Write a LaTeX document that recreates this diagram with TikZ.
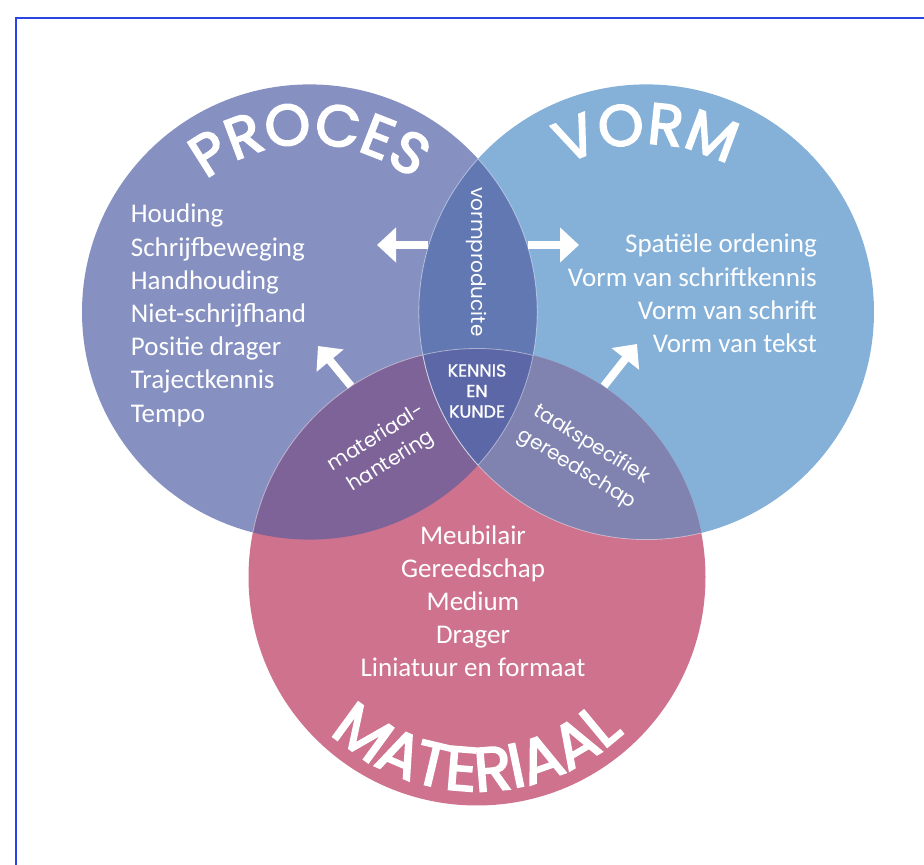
\documentclass[tikz,border=0pt]{standalone}
\usepackage{fontspec}
\setmainfont{Carlito}
\newfontfamily\geo{Poppins}
\newfontfamily\geot[FakeBold=3]{Poppins}
\newfontfamily\geok[FakeBold=1]{Poppins}
\usetikzlibrary{arrows.meta,decorations.text,calc}
\definecolor{cP}{HTML}{8691C2}
\definecolor{cV}{HTML}{85B1D9}
\definecolor{cM}{HTML}{CE728E}
\definecolor{cPV}{HTML}{6178B3}
\definecolor{cPM}{HTML}{7D6398}
\definecolor{cVM}{HTML}{8083B0}
\definecolor{cPVM}{HTML}{5C67A7}
\definecolor{frameblue}{HTML}{2A45E6}
\tikzset{
  listtext/.style={text=white, inner sep=0pt, font=\fontsize{27}{33}\selectfont},
  lenstext/.style={text=white, inner sep=0pt, align=center, font=\geo\fontsize{20}{28}\selectfont},
  kenntext/.style={text=white, inner sep=0pt, align=center, font=\geok\fontsize{17.5}{20.5}\selectfont},
  edgeline/.style={draw=white, draw opacity=0.45, line width=0.8pt},
  fatarrow/.style={white, line width=8pt, -{Triangle[length=19pt,width=34pt]}},
  arctitle/.style={decorate, decoration={text along path, text align={center}, text color=white}}
}
\begin{document}
\begin{tikzpicture}[x=1pt,y=1pt]
\useasboundingbox (0,0) rectangle (924,865);
\draw[frameblue, line width=2pt] (16,847) rectangle (960,-30);

\coordinate (P) at (309.6,553);
\coordinate (V) at (646.4,553);
\coordinate (M) at (477,288);
\def\rPV{227.6}
\def\rM{228.5}

% base circles
\fill[cP] (P) circle[radius=\rPV];
\fill[cV] (V) circle[radius=\rPV];
\fill[cM] (M) circle[radius=\rM];
% overlaps
\begin{scope}\clip (P) circle[radius=\rPV]; \fill[cPV] (V) circle[radius=\rPV];\end{scope}
\begin{scope}\clip (P) circle[radius=\rPV]; \fill[cPM] (M) circle[radius=\rM];\end{scope}
\begin{scope}\clip (V) circle[radius=\rPV]; \fill[cVM] (M) circle[radius=\rM];\end{scope}
\begin{scope}\clip (P) circle[radius=\rPV]; \clip (V) circle[radius=\rPV]; \fill[cPVM] (M) circle[radius=\rM];\end{scope}
% thin inner boundaries
\begin{scope}\clip (P) circle[radius=\rPV]; \path[edgeline] (V) circle[radius=\rPV]; \path[edgeline] (M) circle[radius=\rM];\end{scope}
\begin{scope}\clip (V) circle[radius=\rPV]; \path[edgeline] (P) circle[radius=\rPV];\end{scope}
\begin{scope}\clip (M) circle[radius=\rM]; \path[edgeline] (V) circle[radius=\rPV];\end{scope}

% curved titles
\path[arctitle, decoration={text={|\geot\fontsize{58}{58}\selectfont|PROCES}}]
  ($(P)+(160:168)$) arc[start angle=160, end angle=20, radius=168];
\path[arctitle, decoration={text={|\geot\fontsize{58}{58}\selectfont|VORM}}]
  ($(V)+(160:168)$) arc[start angle=160, end angle=20, radius=168];
\path[arctitle, decoration={text={|\geot\fontsize{62}{62}\selectfont|MATERIAAL}}]
  ($(M)+(200:214)$) arc[start angle=200, end angle=340, radius=214];

% lists
\foreach \t [count=\i from 0] in {Houding,Schrijfbeweging,Handhouding,Niet-schrijfhand,Positie drager,Trajectkennis,Tempo}
  \node[listtext, anchor=base west] (proc\i) at (130.7,{642-33.2*\i}) {\t};
\foreach \t [count=\i from 0] in {Spatiële ordening,Vorm van schriftkennis,Vorm van schrift,Vorm van tekst}
  \node[listtext, anchor=base east] (vorm\i) at (817,{612-33.1*\i}) {\t};
\foreach \t [count=\i from 0] in {Meubilair,Gereedschap,Medium,Drager,Liniatuur en formaat}
  \node[listtext, anchor=base] (mat\i) at (473,{320-33*\i}) {\t};

% lens labels
\node[lenstext, rotate=-90] (vp) at (477,603) {vormproducite};
\node[kenntext] (kk) at (477,474) {KENNIS\\EN\\KUNDE};
\node[lenstext, rotate=32] (mh) at (384,415) {materiaal-\\hantering};
\node[lenstext, rotate=-31.5] (tg) at (584,408) {taakspecifiek\\gereedschap};

% arrows
\coordinate (a1s) at (428,620); \coordinate (a1e) at (377,620);
\coordinate (a2s) at (528,620); \coordinate (a2e) at (579,620);
\coordinate (a3s) at (351,479); \coordinate (a3e) at (318,519);
\coordinate (a4s) at (604,479); \coordinate (a4e) at (637,521);
\draw[fatarrow] (a1s) -- (a1e);
\draw[fatarrow] (a2s) -- (a2e);
\draw[fatarrow] (a3s) -- (a3e);
\draw[fatarrow] (a4s) -- (a4e);
\end{tikzpicture}
\end{document}
